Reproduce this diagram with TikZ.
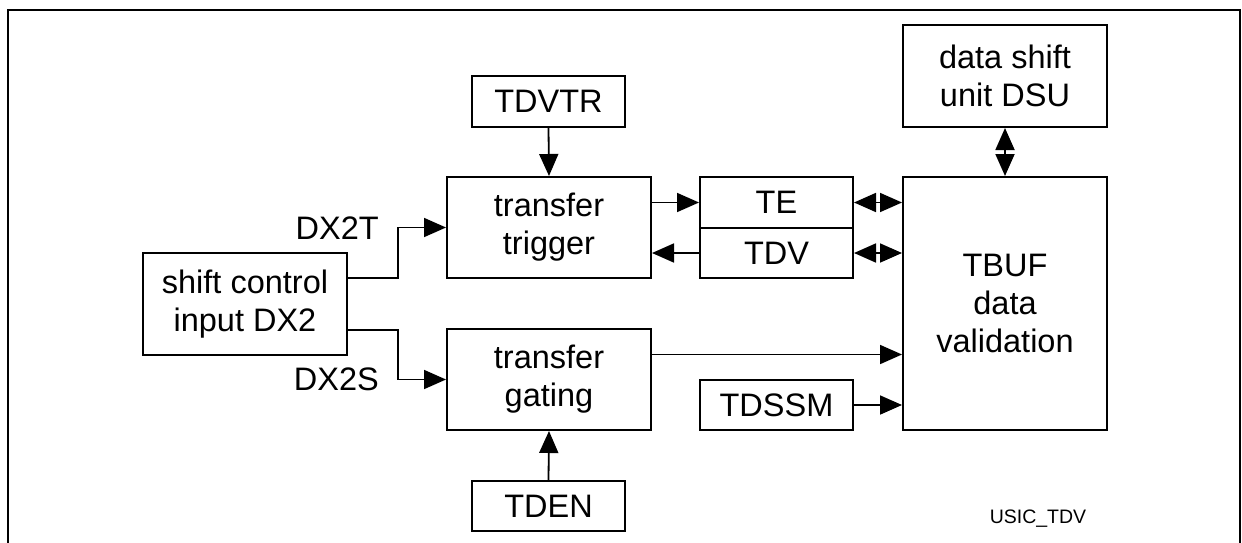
\documentclass[tikz,border=0pt]{standalone}
\usepackage{fontspec}
\setmainfont{Liberation Sans}
\usetikzlibrary{arrows.meta}
\begin{document}
\begin{tikzpicture}[x=1pt,y=-1pt,
  blk/.style={draw, line width=2pt, inner sep=0pt, align=center,
    font=\fontsize{32.5}{38}\selectfont},
  arr/.style={-{Triangle[length=22pt,width=19pt]}, line width=1.8pt},
  darr/.style={{Triangle[length=22pt,width=19pt]}-{Triangle[length=22pt,width=19pt]}, line width=1.8pt},
  lbl/.style={inner sep=0pt, font=\fontsize{32.5}{38}\selectfont}]
\useasboundingbox (0,0) rectangle (1242,543);
\draw[line width=2pt] (8,543) -- (8,10) -- (1240,10) -- (1240,543);

\node[blk, minimum width=204pt, minimum height=102pt] (dsu) at (1005,76) {data shift\\unit DSU};
\node[blk, minimum width=204pt, minimum height=253pt] (tbuf) at (1005,303.5) {TBUF\\data\\validation};
\node[blk, minimum width=153pt, minimum height=51pt] (tdvtr) at (548.5,101.5) {TDVTR};
\node[blk, minimum width=204pt, minimum height=101pt] (trig) at (549,227.5) {transfer\\trigger};
\node[blk, minimum width=153pt, minimum height=51pt] (te) at (776.5,202.5) {TE};
\node[blk, minimum width=153pt, minimum height=50pt] (tdv) at (776.5,253) {TDV};
\node[blk, minimum width=204pt, minimum height=102pt] (scid) at (245,304) {shift control\\input DX2};
\node[blk, minimum width=204pt, minimum height=101pt] (gate) at (549,379.5) {transfer\\gating};
\node[blk, minimum width=153pt, minimum height=50pt] (tdssm) at (776.5,405) {TDSSM};
\node[blk, minimum width=153pt, minimum height=50pt] (tden) at (548.5,506) {TDEN};

\node[inner sep=0pt, font=\fontsize{19.5}{22}\selectfont] (usic) at (1038,519) {USIC\_TDV};

\draw[arr] (tdvtr.south) -- (trig.north);
\draw[arr] (te.west -| trig.east) -- (te.west);
\draw[arr] (tdv.west) -- (tdv.west -| trig.east);
\draw[darr] (te.east) -- (te.east -| tbuf.west);
\draw[darr] (tdv.east) -- (tdv.east -| tbuf.west);
\draw[darr] (dsu.south) -- (tbuf.north);

\coordinate (s1) at ([yshift=26pt]scid.east);
\coordinate (s2) at ([yshift=-26pt]scid.east);
\draw[arr] (s1) -- ++(50,0) |- (trig.west);
\draw[arr] (s2) -- ++(50,0) |- (gate.west);
\node[lbl, anchor=east] (dx2t) at (379,228) {DX2T};
\node[lbl, anchor=east] (dx2s) at (379,379) {DX2S};

\coordinate (g1) at ([yshift=25pt]gate.east);
\draw[arr] (g1) -- (g1 -| tbuf.west);
\draw[arr] (tdssm.east) -- (tdssm.east -| tbuf.west);
\draw[arr] (tden.north) -- (gate.south);
\end{tikzpicture}
\end{document}
